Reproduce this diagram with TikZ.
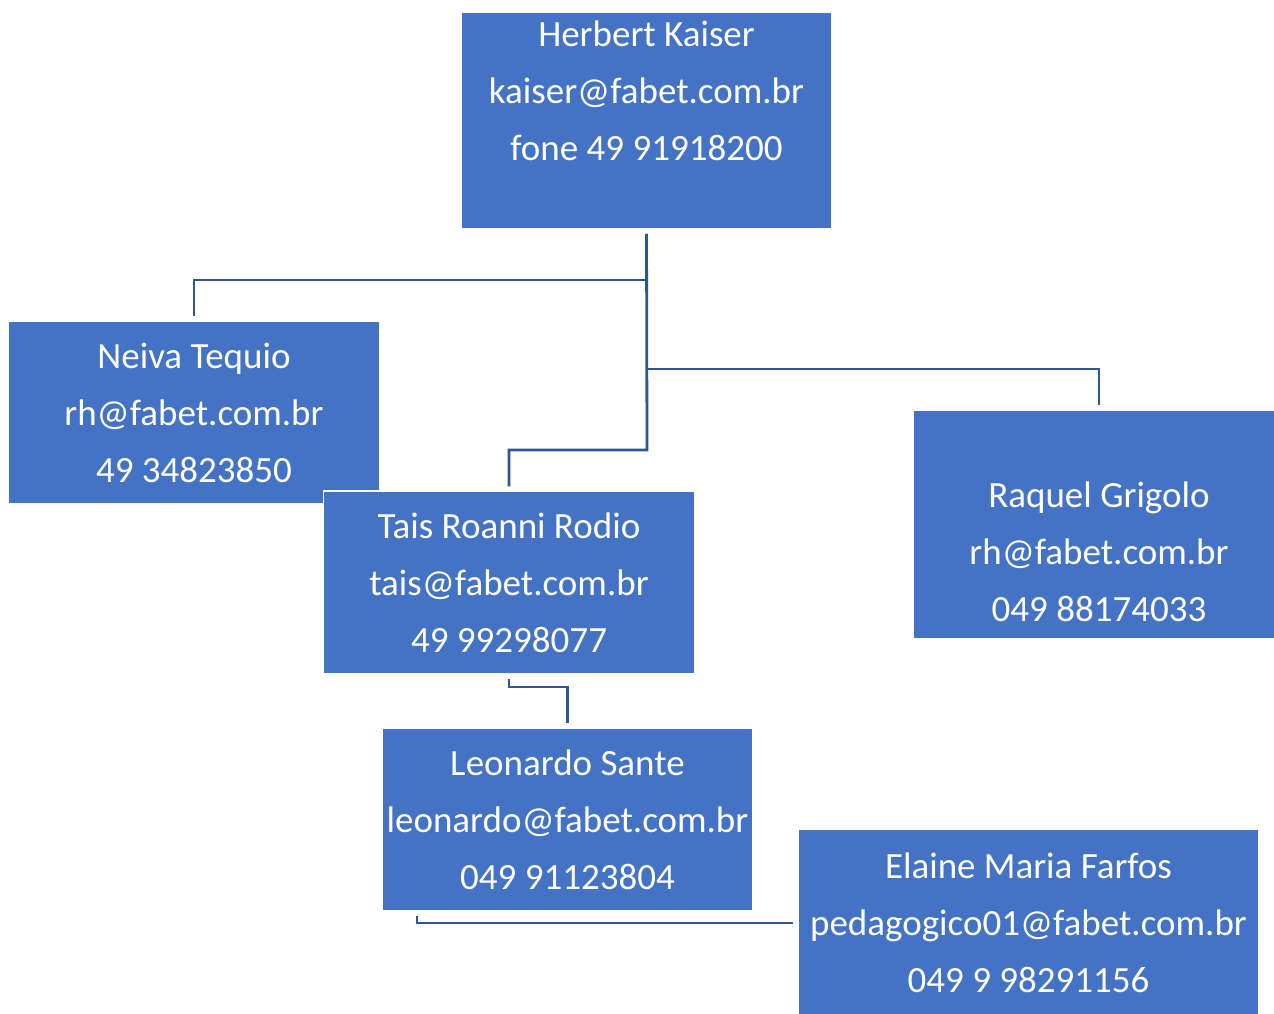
\documentclass[tikz,border=0pt]{standalone}
\usepackage{fontspec}
\setmainfont{Carlito}
\usepackage{tikz}

\definecolor{boxblue}{RGB}{68,114,196}
\definecolor{linkblue}{RGB}{47,85,151}

\tikzset{
  person/.style={rectangle, fill=boxblue, draw=white, line width=1.5pt,
    text=white, align=center, inner sep=0pt,
    minimum width=371pt, minimum height=183pt,
    font=\fontsize{37}{57}\selectfont},
  persontext/.style={text=white, align=center, inner sep=0pt,
    font=\fontsize{37}{57}\selectfont},
  link/.style={draw=linkblue, line width=2.8pt, shorten <=4pt, shorten >=4pt}
}

\begin{document}
\begin{tikzpicture}[x=1pt, y=-1pt]
  \useasboundingbox (0,0) rectangle (1274,1014);
  \clip (0,0) rectangle (1274,1014);

  % Boxes for the people
  \node[person, minimum height=217pt] (herbert) at (646.5,120.5) {};
  \node[persontext] (herberttext) at (646.5,91)
    {Herbert Kaiser\\kaiser@fabet.com.br\\fone 49 91918200};
  \node[person] (neiva) at (194,412.5)
    {Neiva Tequio\\rh@fabet.com.br\\49 34823850};
  \node[person] (tais) at (509,582.5)
    {Tais Roanni Rodio\\tais@fabet.com.br\\49 99298077};
  \node[person, minimum height=229pt] (raquel) at (1099,524.5) {};
  \node[persontext] (raqueltext) at (1099,552)
    {Raquel Grigolo\\rh@fabet.com.br\\049 88174033};
  \node[person] (leonardo) at (567.5,819.5)
    {Leonardo Sante\\leonardo@fabet.com.br\\049 91123804};
  \node[person, minimum width=461pt, minimum height=188pt] (elaine) at (1028.5,923)
    {Elaine Maria Farfos\\pedagogico01@fabet.com.br\\049 9 98291156};

  % Junctions on the trunk
  \coordinate (jneiva) at (647,280);
  \coordinate (jraquel) at (647,369);
  \coordinate (jtais) at (647,450);
  \coordinate (jleo) at (509,687);

  % Links from Herbert
  \draw[link] (herbert.south) -- (jtais) -| (tais.north);
  \draw[link, shorten <=0pt] (jneiva) -| (neiva.north);
  \draw[link, shorten <=0pt] (jraquel) -| (raquel.north);

  % Links further down
  \draw[link] (tais.south) -- (jleo) -| (leonardo.north);
  \draw[link] ([xshift=-150.5pt]leonardo.south) |- (elaine.west);
\end{tikzpicture}
\end{document}
